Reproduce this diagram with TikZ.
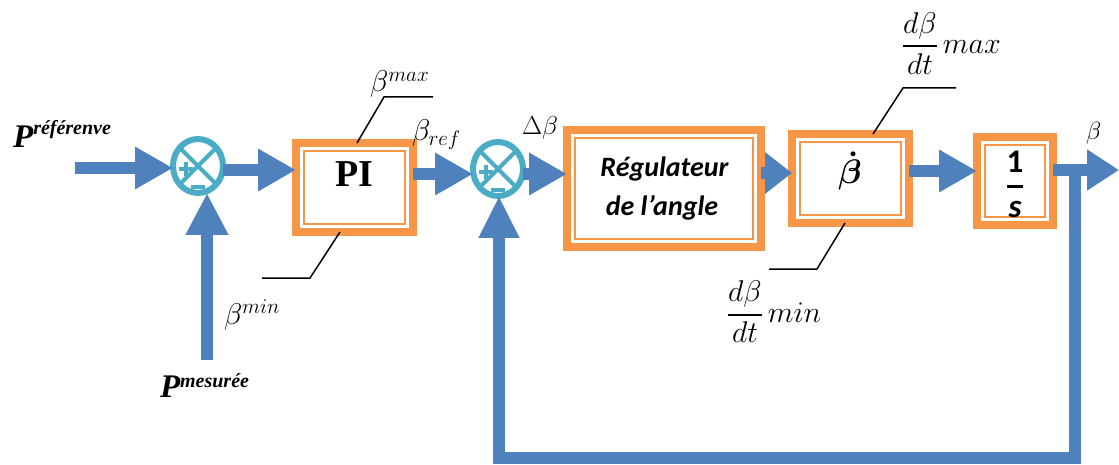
\documentclass[tikz,border=0pt]{standalone}
\usepackage{fix-cm}
\usepackage{amsmath}
\usepackage{fontspec}
\newfontfamily\timesf{Liberation Serif}
\newfontfamily\calf{Carlito}
\usetikzlibrary{arrows.meta,shapes.geometric}
\definecolor{ablue}{HTML}{4F81BD}
\definecolor{aorange}{HTML}{F79646}
\definecolor{acyan}{HTML}{4BACC6}
\tikzset{
  blockbox/.style={rectangle, draw=aorange, line width=8pt, fill=white, inner sep=0pt, outer sep=0pt,
    path picture={\draw[aorange, line width=2.5pt]
      ([shift={(8pt,-8pt)}]path picture bounding box.north west) rectangle
      ([shift={(-8pt,8pt)}]path picture bounding box.south east);}},
  sumj/.style={ellipse, draw=acyan, line width=6pt, fill=white, minimum width=50pt, minimum height=54pt, inner sep=0pt, outer sep=0pt},
  flow/.style={draw=ablue, line width=12pt, -{Triangle[length=38pt,width=40pt]}},
  lead/.style={draw=black, line width=1.5pt},
  sym/.style={draw=acyan, line width=4pt},
  lbl/.style={inner sep=0pt, outer sep=0pt},
}
\begin{document}
\begin{tikzpicture}[x=1pt,y=-1pt]
\fill[white] (0,0) rectangle (1119,465);
\useasboundingbox (0,0) rectangle (1119,465);

% row heights
\coordinate (rA) at (0,168);
\coordinate (rB) at (0,170);
\coordinate (rC) at (0,174);
\coordinate (rD) at (0,173);
\coordinate (rE) at (0,171);
\coordinate (rF) at (0,170);

% summing junctions
\node[sumj] (s1) at (198,166) {};
\node[sumj] (s2) at (498,169) {};
\foreach \s in {s1,s2}{
  \draw[sym] (\s.45) -- (\s.225);
  \draw[sym] (\s.135) -- (\s.315);
  \draw[sym] ([shift={(-19,3)}]\s.center) -- ([shift={(-5,3)}]\s.center);
  \draw[sym] ([shift={(-12,-4)}]\s.center) -- ([shift={(-12,10)}]\s.center);
  \draw[sym] ([shift={(-7,21)}]\s.center) -- ([shift={(7,21)}]\s.center);
}

% blocks
\node[blockbox, minimum width=117pt, minimum height=89pt] (pi) at (354.5,187.5) {};
\node[blockbox, minimum width=194pt, minimum height=117pt] (reg) at (664,188.5) {};
\node[blockbox, minimum width=117pt, minimum height=89pt] (bd) at (850.5,178.5) {};
\node[blockbox, minimum width=76pt, minimum height=88pt] (integ) at (1015,181) {};

% block texts
\node[lbl, anchor=base] (piT) at (354,187) {\timesf\bfseries\fontsize{38}{44}\selectfont PI};
\node[lbl, anchor=base] (regT1) at (664.5,177) {\calf\bfseries\itshape\fontsize{28}{34}\selectfont Régulateur};
\node[lbl, anchor=base] (regT2) at (662,216) {\calf\bfseries\itshape\fontsize{28}{34}\selectfont de l’angle};
\node[lbl, anchor=base] (bdT) at (850,184) {\fontsize{34}{40}\selectfont$\boldsymbol{\dot\beta}$};
\node[lbl, anchor=base] (intT) at (1015,195) {\calf\bfseries\fontsize{33}{40}\selectfont$\genfrac{}{}{3pt}{0}{\text{1}}{\text{\itshape s}}$};

% main flow arrows
\coordinate (inA) at (75,168);
\draw[flow] (inA) -- (inA -| s1.west);
\draw[flow] (s1.east |- rB) -- (pi.west |- rB);
\draw[flow] (pi.east |- rC) -- (s2.west |- rC);
\draw[flow] (s2.east |- rC) -- (reg.west |- rC);
\draw[flow, -{Triangle[length=27pt,width=40pt]}] (reg.east |- rD) -- (bd.west |- rD);
\draw[flow] (bd.east |- rE) -- (integ.west |- rE);
\coordinate (outP) at (1119,170);
\draw[flow, -{Triangle[length=32pt,width=39pt]}] (integ.east |- rF) -- (outP);

% measured input
\coordinate (mIn) at (207,360);
\draw[flow, -{Triangle[length=42pt,width=40pt]}] (mIn) -- (mIn |- s1.south);

% feedback
\coordinate (fbA) at (1075,170);
\coordinate (fbB) at (1075,458);
\coordinate (fbC) at (499,458);
\draw[flow, line join=miter, -{Triangle[length=42pt,width=38pt]}] (fbA) -- (fbB) -- (fbC) -- (fbC |- s2.south);

% saturation leaders
\draw[lead] ([xshift=2.5pt]pi.north) -- ++(27,-46) -- ++(49,0);
\draw[lead] ([xshift=-14.5pt]pi.south) -- ++(-30,46) -- ++(-48,0);
\draw[lead] ([xshift=22.5pt]bd.north) -- ++(30,-46) -- ++(53,0);
\draw[lead] ([xshift=-5.5pt]bd.south) -- ++(-28,46) -- ++(-48,0);

% labels
\node[lbl, anchor=base east] (pref) at (111,148) {\timesf\bfseries\itshape\fontsize{33}{40}\selectfont P\raisebox{13pt}{\fontsize{20}{24}\selectfont référenve}};
\node[lbl, anchor=base west] (pmes) at (160,397) {\timesf\bfseries\itshape\fontsize{33}{40}\selectfont P\raisebox{10pt}{\fontsize{20}{24}\selectfont mesurée}};
\node[lbl, anchor=base west] (lmax) at (370,92) {\fontsize{30}{36}\selectfont$\beta^{max}$};
\node[lbl, anchor=base west] (lmin) at (224,324) {\fontsize{30}{36}\selectfont$\beta^{min}$};
\node[lbl, anchor=base west] (lref) at (412,141) {\fontsize{30}{36}\selectfont$\beta_{ref}$};
\node[lbl, anchor=base west] (ldel) at (522,135) {\fontsize{26}{32}\selectfont$\Delta\beta$};
\node[lbl, anchor=base west] (lout) at (1086,140) {\fontsize{25}{30}\selectfont$\beta$};
\node[lbl, anchor=base west] (dmax) at (902,54) {\fontsize{30}{36}\selectfont$\genfrac{}{}{2pt}{0}{d\beta}{dt}\,max$};
\node[lbl, anchor=base west] (dmin) at (727,322) {\fontsize{30}{36}\selectfont$\genfrac{}{}{2pt}{0}{d\beta}{dt}\,min$};
\end{tikzpicture}
\end{document}
